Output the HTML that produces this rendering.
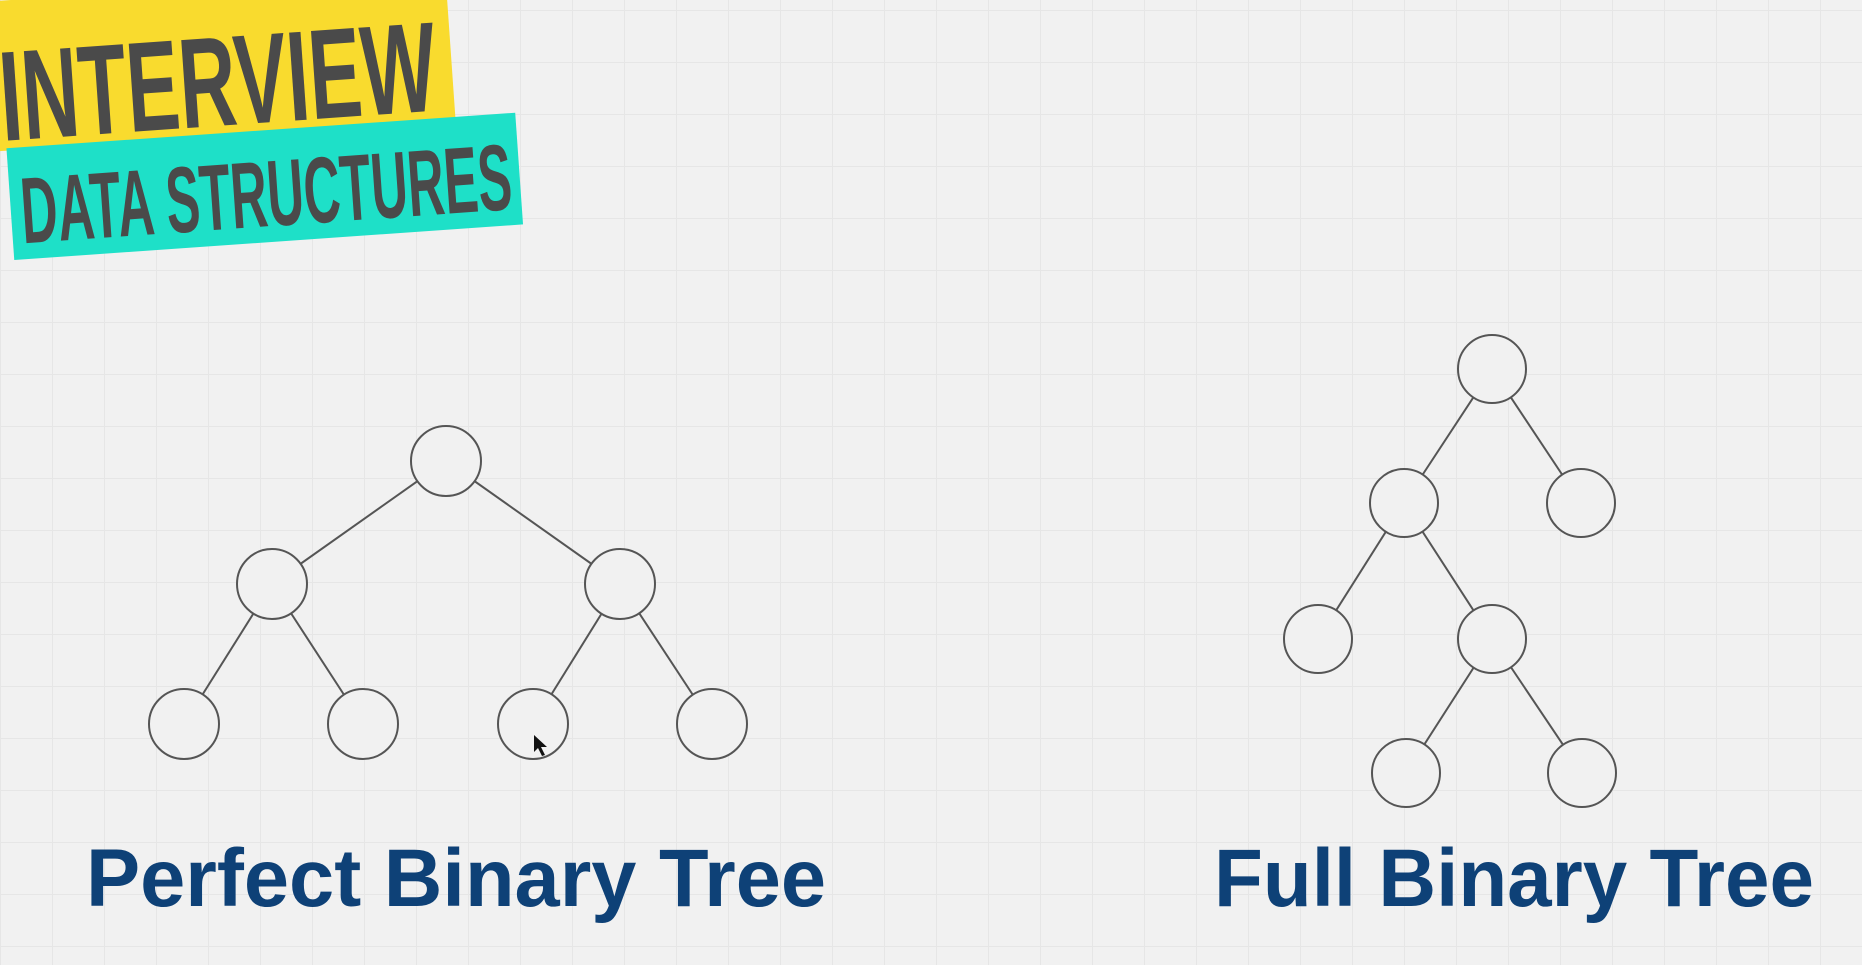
<!DOCTYPE html>
<html><head><style>
html,body{margin:0;padding:0;}
body{width:1862px;height:965px;overflow:hidden;background-color:#f1f1f1;
background-image:linear-gradient(#e6e6e6 1px,transparent 1px),linear-gradient(90deg,#e6e6e6 1px,transparent 1px);
background-size:52px 52px;background-position:0 10px;position:relative;}
svg{position:absolute;left:0;top:0;}
</style></head><body>
<svg width="1862" height="965" viewBox="0 0 1862 965">
<g transform="rotate(-4 230 120)">
<rect x="-20" y="-15" width="475" height="150" fill="#f9db2e"/>
<g transform="translate(2,125) scale(0.56,1)">
<text x="0" y="0" font-family="Liberation Sans, sans-serif" font-weight="bold" font-size="128" fill="#4a4a4a" textLength="780" lengthAdjust="spacingAndGlyphs">INTERVIEW</text>
</g>
</g>
<g transform="rotate(-4 270 190)">
<rect x="10" y="130" width="510" height="112" fill="#1ee0c8"/>
<g transform="translate(20,226) scale(0.58,1)">
<text x="0" y="0" font-family="Liberation Sans, sans-serif" font-weight="bold" font-size="94" fill="#4a4a4a" textLength="848" lengthAdjust="spacingAndGlyphs">DATA STRUCTURES</text>
</g>
</g>
<g stroke="#555" stroke-width="2" fill="none">
<line x1="446" y1="461" x2="272" y2="584"/><line x1="446" y1="461" x2="620" y2="584"/>
<line x1="272" y1="584" x2="184" y2="724"/><line x1="272" y1="584" x2="363" y2="724"/>
<line x1="620" y1="584" x2="533" y2="724"/><line x1="620" y1="584" x2="712" y2="724"/>
<line x1="1492" y1="369" x2="1404" y2="503"/><line x1="1492" y1="369" x2="1581" y2="503"/>
<line x1="1404" y1="503" x2="1318" y2="639"/><line x1="1404" y1="503" x2="1492" y2="639"/>
<line x1="1492" y1="639" x2="1406" y2="773"/><line x1="1492" y1="639" x2="1582" y2="773"/>
</g>
<g stroke="#555" stroke-width="2" fill="#f1f1f1">
<ellipse cx="446" cy="461" rx="35" ry="35"/>
<ellipse cx="272" cy="584" rx="35" ry="35"/><ellipse cx="620" cy="584" rx="35" ry="35"/>
<ellipse cx="184" cy="724" rx="35" ry="35"/><ellipse cx="363" cy="724" rx="35" ry="35"/>
<ellipse cx="533" cy="724" rx="35" ry="35"/><ellipse cx="712" cy="724" rx="35" ry="35"/>
<ellipse cx="1492" cy="369" rx="34" ry="34"/>
<ellipse cx="1404" cy="503" rx="34" ry="34"/><ellipse cx="1581" cy="503" rx="34" ry="34"/>
<ellipse cx="1318" cy="639" rx="34" ry="34"/><ellipse cx="1492" cy="639" rx="34" ry="34"/>
<ellipse cx="1406" cy="773" rx="34" ry="34"/><ellipse cx="1582" cy="773" rx="34" ry="34"/>
</g>
<path d="M534 735 l0 17 l4 -4 l4 8 l3 -1 l-4 -8 l6 0 z" fill="#111"/>
<text x="86" y="906" font-family="Liberation Sans, sans-serif" font-weight="bold" font-size="82" fill="#0e4177" textLength="740" lengthAdjust="spacingAndGlyphs">Perfect Binary Tree</text>
<text x="1214" y="906" font-family="Liberation Sans, sans-serif" font-weight="bold" font-size="82" fill="#0e4177" textLength="600" lengthAdjust="spacingAndGlyphs">Full Binary Tree</text>
</svg>
</body></html>
